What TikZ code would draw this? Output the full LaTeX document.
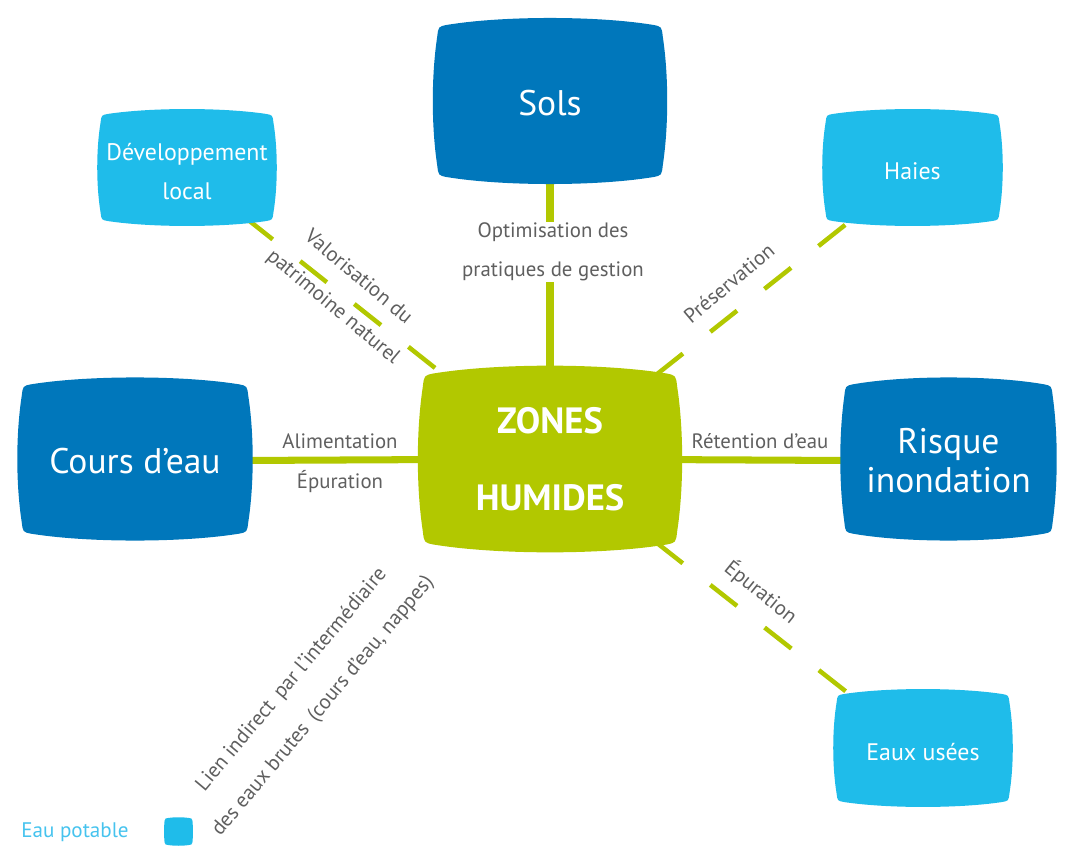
\documentclass[tikz,border=0pt]{standalone}
\usepackage{fontspec}
\setmainfont{PT Sans}
\usetikzlibrary{backgrounds}
\definecolor{dkblue}{RGB}{0,119,187}
\definecolor{ltblue}{RGB}{31,188,234}
\definecolor{zhgreen}{RGB}{178,200,0}
\definecolor{lblgrey}{RGB}{95,95,95}
\definecolor{potable}{RGB}{70,195,238}
\tikzset{
  bigtxt/.style={text=white, font=\fontsize{25.3}{27.7}\selectfont, align=center, yshift=-0.05cm},
  smalltxt/.style={text=white, font=\fontsize{17}{27.7}\selectfont, align=center, yshift=-0.1cm},
  zhtxt/.style={text=white, font=\bfseries\fontsize{26}{55}\selectfont, align=center},
  lbl/.style={text=lblgrey, font=\fontsize{14.8}{27.7}\selectfont, inner sep=1pt, align=center},
  link/.style={line width=5pt, zhgreen},
  dlink/.style={line width=3.2pt, zhgreen, dash pattern=on 0.85cm off 0.875cm},
}

% rounded box with bulging sides: name, centre, width, height, colour, text style, text
\newcommand{\blob}[7]{%
  \fill[#5, shift={(#2)}, xscale=#3, yscale=#4]
    (-0.44,-0.45) .. controls (-0.2,-0.505) and (0.2,-0.505) .. (0.44,-0.45)
    .. controls (0.475,-0.44) .. (0.48,-0.38)
    .. controls (0.505,-0.15) and (0.505,0.15) .. (0.48,0.38)
    .. controls (0.475,0.44) .. (0.44,0.45)
    .. controls (0.2,0.505) and (-0.2,0.505) .. (-0.44,0.45)
    .. controls (-0.475,0.44) .. (-0.48,0.38)
    .. controls (-0.505,0.15) and (-0.505,-0.15) .. (-0.48,-0.38)
    .. controls (-0.475,-0.44) .. (-0.44,-0.45) -- cycle;
  \node[#6] (#1) at (#2) {#7};
}

\begin{document}
\begin{tikzpicture}[x=0.025cm, y=-0.025cm]
\useasboundingbox (0,0) rectangle (1071,846);

% boxes
\blob{sols}{550,101}{235}{169}{dkblue}{bigtxt}{Sols}
\blob{devloc}{187,167.5}{180}{119}{ltblue}{smalltxt}{Développement\\local}
\blob{haies}{912.5,167.5}{181}{119}{ltblue}{smalltxt}{Haies}
\blob{cours}{135,459}{236}{166}{dkblue}{bigtxt}{Cours d’eau}
\blob{risque}{948.5,459}{217}{166}{dkblue}{bigtxt}{Risque\\inondation}
\blob{zh}{550,459}{265}{190}{zhgreen}{zhtxt}{ZONES\\HUMIDES}
\blob{eaux}{923,748}{180}{120}{ltblue}{smalltxt}{Eaux usées}
\blob{leg}{178.5,831.5}{29}{29}{ltblue}{}{}

% links
\begin{scope}[on background layer]
\draw[link] (sols) -- (zh);
\draw[link] (cours) -- (zh);
\draw[link] (zh) -- (risque);
\draw[dlink, dash phase=1.51cm] (zh.center) -- (devloc.center);
\draw[dlink, dash phase=0.06cm] (zh.center) -- (haies.center);
\draw[dlink, dash phase=0.08cm] (zh.center) -- (eaux.center);
\end{scope}

% labels
\node[lbl, fill=white] (optim) at (553,252) {Optimisation des\\pratiques de gestion};
\node[lbl] (alim) at (340,441) {Alimentation};
\node[lbl] (epur) at (340,482) {Épuration};
\node[lbl] (reten) at (760,441) {Rétention d’eau};
\node[lbl, rotate=-40] (valor) at (345.5,292.5) {Valorisation du\\patrimoine naturel};
\node[lbl, rotate=40] (preserv) at (729,283) {Préservation};
\node[lbl, rotate=-39] (epur2) at (761,592) {Épuration};
\node[lbl, rotate=50, font=\fontsize{14.8}{29}\selectfont] (indirect) at (307.5,693)
  {Lien indirect\, par l’intermédiaire\\des eaux brutes\, (cours d’eau, nappes)};
\node[lbl, text=potable, font=\fontsize{15}{18}\selectfont] (potable) at (75,832) {Eau potable};
\end{tikzpicture}
\end{document}
